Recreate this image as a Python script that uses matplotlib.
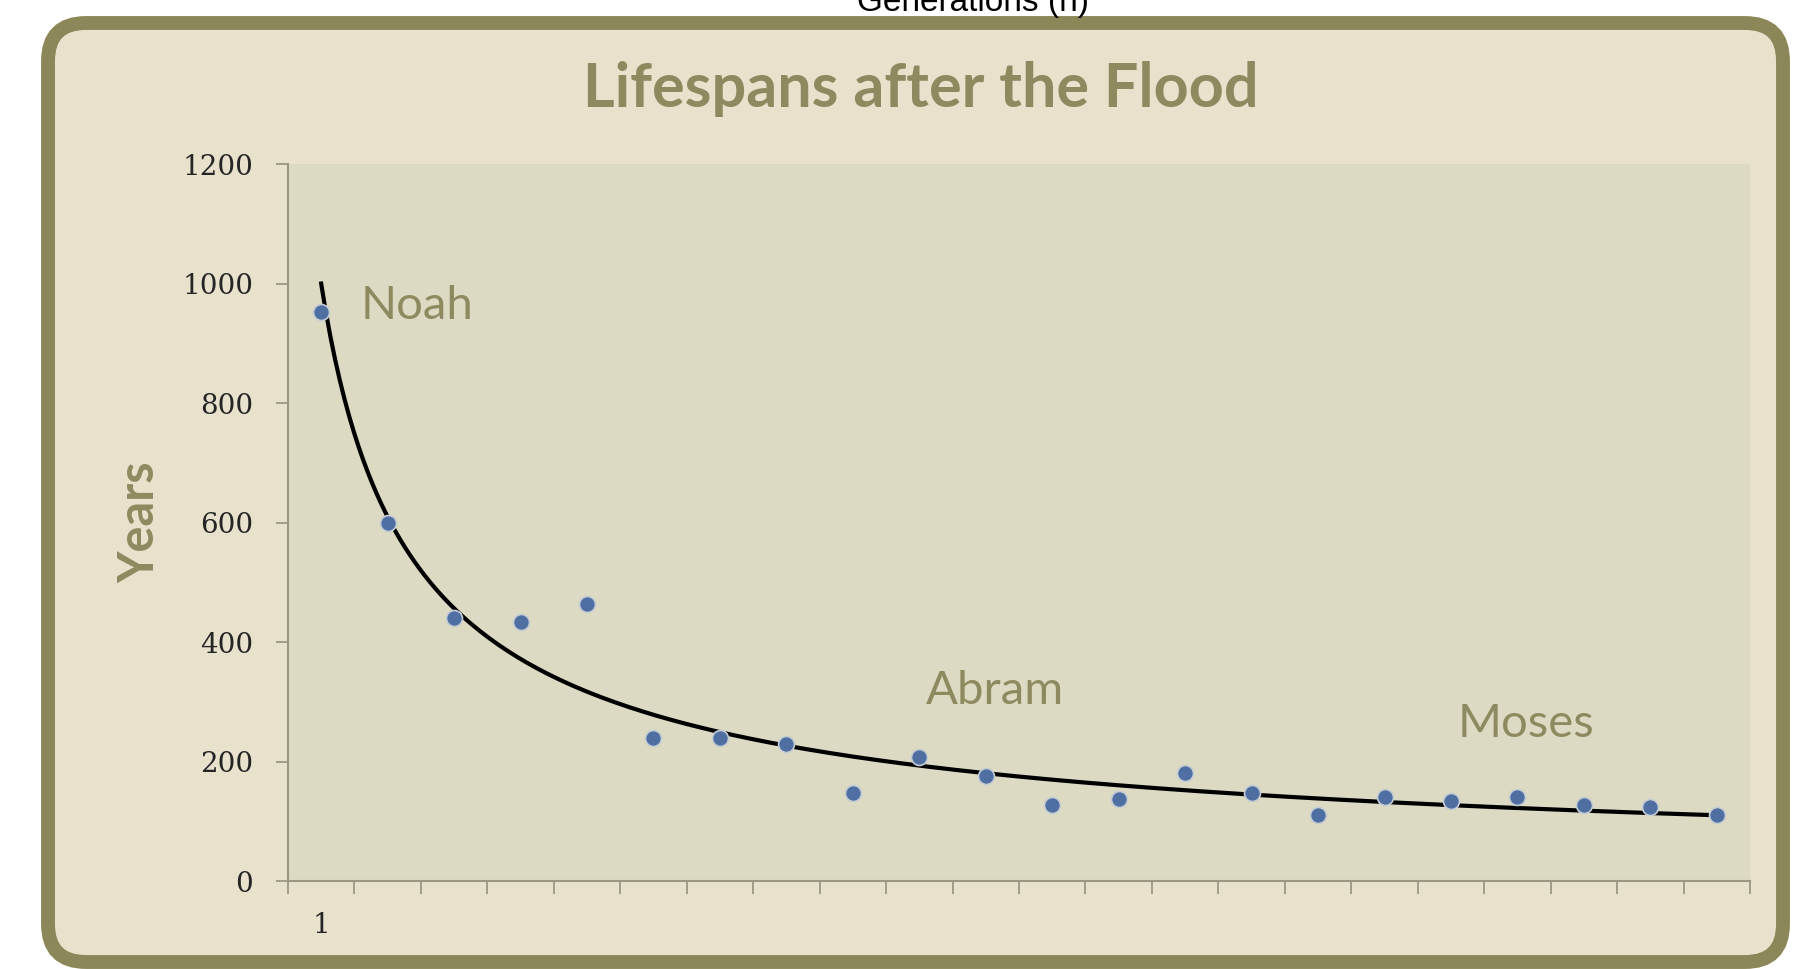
import numpy as np
import matplotlib
matplotlib.use("Agg")
import matplotlib.pyplot as plt
from matplotlib.patches import FancyBboxPatch
from matplotlib.transforms import IdentityTransform

# lifespans after the flood, one per generation
generations = np.arange(1, 23)
years = [953, 600, 440, 433, 464, 239, 239, 230, 148, 207, 176,
         128, 138, 180, 148, 111, 140, 134, 140, 127, 124, 111]

# power trendline: y = a * n^b
trend_a = 1000.0
trend_b = -0.714

names = ["Noah", "Abram", "Moses"]
name_pos = [(1.6, 963), (10.1, 318), (18.1, 262)]

yticks = [0, 200, 400, 600, 800, 1000, 1200]

olive = "#8e8a60"
panel = "#e8e2cd"
plotbg = "#dddac3"

W, H = 1794, 969
fig = plt.figure(figsize=(W / 100, H / 100), dpi=100)
fig.patch.set_facecolor("white")

# rounded frame in pixel coordinates, kept behind the axes
frame = FancyBboxPatch((48, 7), 1735, 939,
                       boxstyle="round,pad=0,rounding_size=38",
                       transform=IdentityTransform(),
                       facecolor=panel, edgecolor="#8c8758", linewidth=10,
                       zorder=-1)
fig.patches.append(frame)

fig.text(973 / W, 958 / H, "Generations (n)", ha="center", va="baseline",
         fontsize=24, family="Liberation Sans", color="black")

fig.text(0.5134, 0.908, "Lifespans after the Flood", ha="center", va="center",
         fontsize=44, fontweight="bold", family="Lato", color=olive)

ax = fig.add_axes([0.1605, 0.0908, 0.815, 0.7399])
ax.set_zorder(2)
ax.set_facecolor(plotbg)

ax.set_xlim(0.5, 22.5)
ax.set_ylim(0, 1200)

n_fit = np.linspace(1, 22, 300)
ax.plot(n_fit, trend_a * n_fit ** trend_b, color="black", lw=3, zorder=2)
ax.plot(generations, years, "o", ms=11.5, color="#4f6fa2",
        mec="#c4ccd4", mew=1.2, zorder=3)

for name, (x, y) in zip(names, name_pos):
    ax.text(x, y, name, ha="left", va="center", fontsize=34,
            family="Lato", color=olive)

tick_font = dict(family="DejaVu Serif", fontsize=20, color="#252525")
ax.set_yticks(yticks)
ax.set_yticklabels([str(v) for v in yticks], **tick_font)
ax.set_xticks(np.arange(0.5, 23, 1))
ax.set_xticklabels([])
ax.set_xticks([1], minor=True)
ax.set_xticklabels(["1"], minor=True, **tick_font)
ax.tick_params(axis="x", which="major", length=9, color="#9a9883", width=1.3)
ax.tick_params(axis="x", which="minor", length=0, pad=22)
ax.tick_params(axis="y", length=9, color="#9a9883", width=1.3, pad=16)

for side in ("top", "right"):
    ax.spines[side].set_visible(False)
for side in ("left", "bottom"):
    ax.spines[side].set_color("#9a9883")
    ax.spines[side].set_linewidth(1.5)

ax.set_ylabel("Years", fontsize=35, fontweight="bold", family="Lato",
              color=olive, labelpad=14)

fig.savefig("out.png", dpi=100)
